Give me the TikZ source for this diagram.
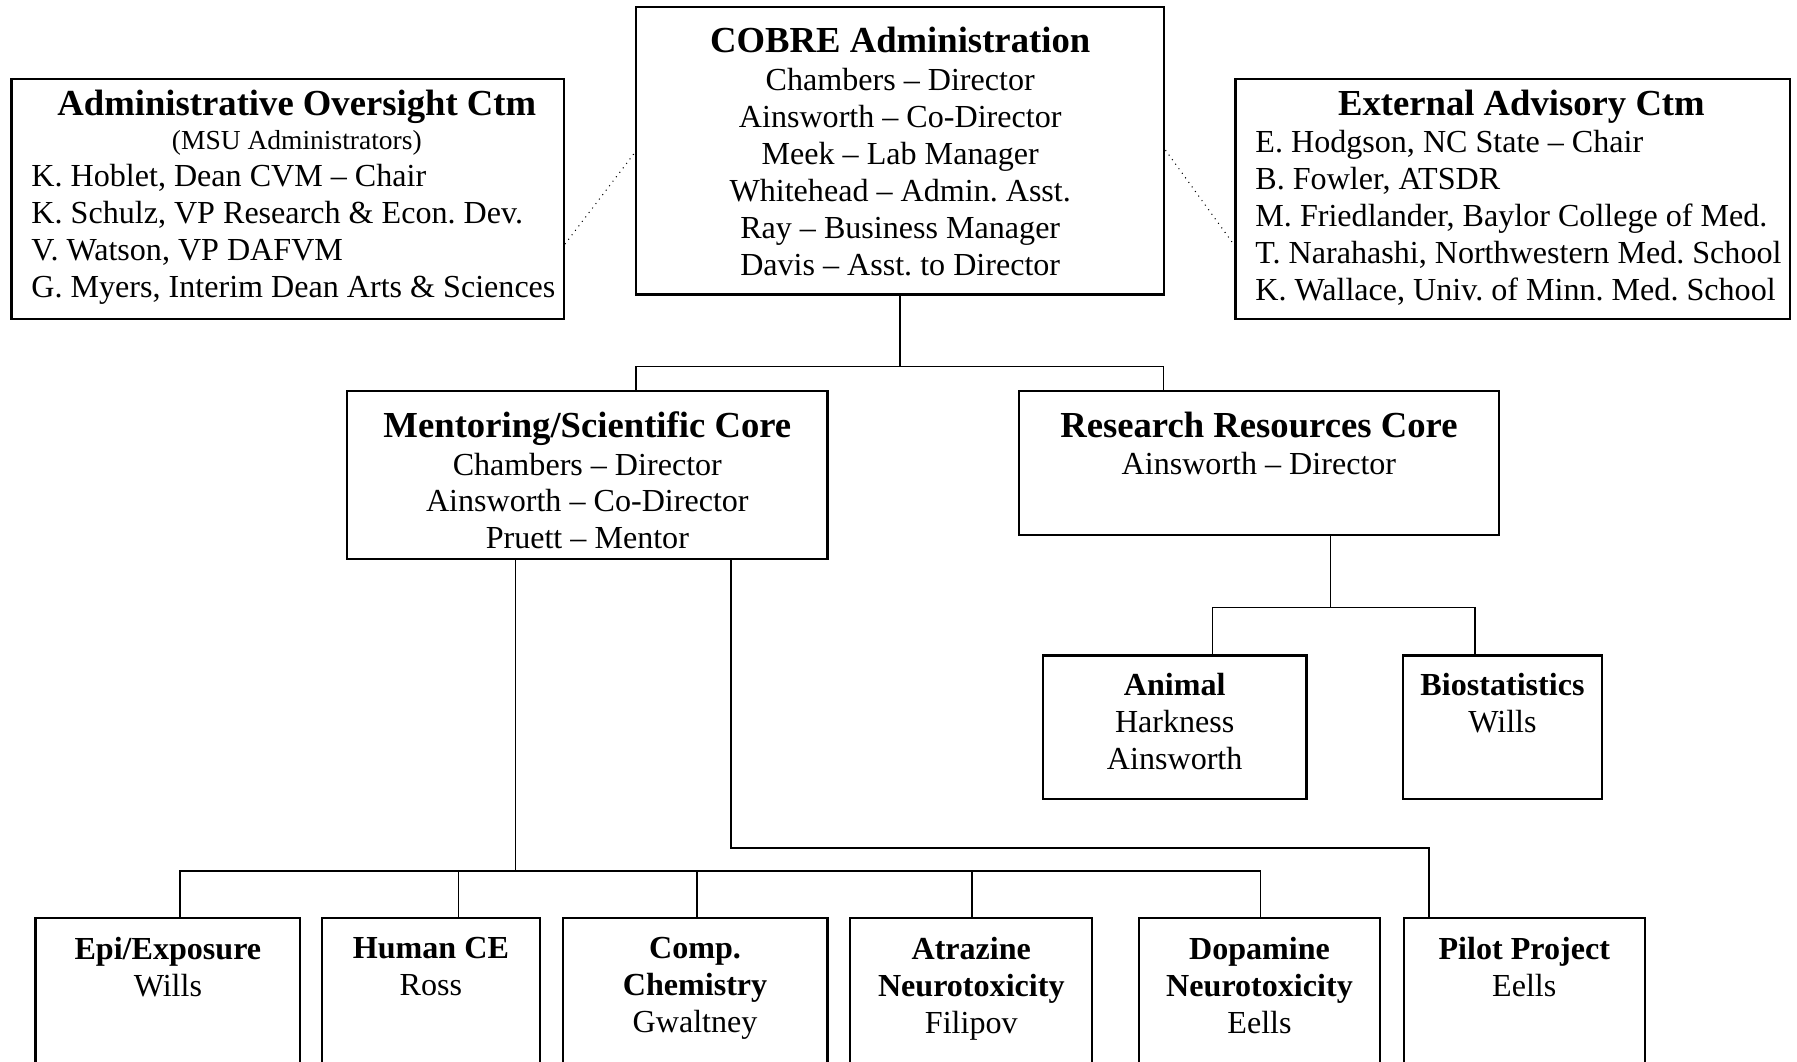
\documentclass[tikz,border=0pt]{standalone}
\usepackage{fontspec}
\setmainfont{Liberation Serif}
\usetikzlibrary{fit}
\newcommand\ttl[1]{{\fontsize{16}{18}\selectfont\bfseries #1}}
\begin{document}
\begin{tikzpicture}[x=0.5pt,y=-0.5pt,
  box/.style={draw, line width=0.95pt, inner sep=0pt},
  body/.style={inner sep=0pt, align=center, anchor=north, font=\fontsize{14}{16.1}\selectfont},
  lbody/.style={inner sep=0pt, align=left, anchor=north west, font=\fontsize{14}{16.1}\selectfont},
  conn/.style={line width=0.65pt},
  dotl/.style={dotted, line width=0.45pt}]
\useasboundingbox (0,0) rectangle (1568,926);
\clip (0,0) rectangle (1568,926);

% boxes
\node[box, fit={(555,6) (1016,257)}] (cobre) {};
\node[box, fit={(10,69) (492,278)}] (admin) {};
\node[box, fit={(1078,69) (1562,278)}] (ext) {};
\node[box, fit={(303,341) (722,488)}] (ment) {};
\node[box, fit={(889,341) (1308,467)}] (rrc) {};
\node[box, fit={(910,572) (1140,697)}] (animal) {};
\node[box, fit={(1224,572) (1398,697)}] (bio) {};
\node[box, fit={(31,801) (262,960)}] (epi) {};
\node[box, fit={(281,801) (471,960)}] (hce) {};
\node[box, fit={(491,801) (722,960)}] (comp) {};
\node[box, fit={(742,801) (953,960)}] (atr) {};
\node[box, fit={(994,801) (1204,960)}] (dop) {};
\node[box, fit={(1225,801) (1435,960)}] (pilot) {};

% texts
\node[body] (cobreT) at ([yshift=-8.9pt]cobre.north) {\ttl{COBRE Administration}\\[0.75pt]
  Chambers -- Director\\ Ainsworth -- Co-Director\\ Meek -- Lab Manager\\
  Whitehead -- Admin.\ Asst.\\ Ray -- Business Manager\\ Davis -- Asst.\ to Director};
\node[body] (adminT) at ([xshift=4pt,yshift=-4.9pt]admin.north) {\ttl{Administrative Oversight Ctm}\\[-1pt]
  {\fontsize{12}{14}\selectfont (MSU Administrators)}};
\node[lbody] (adminL) at ([xshift=9pt,yshift=-37.6pt]admin.north west) {K. Hoblet, Dean CVM -- Chair\\
  K. Schulz, VP Research \& Econ.\ Dev.\\ V. Watson, VP DAFVM\\ G. Myers, Interim Dean Arts \& Sciences};
\node[body] (extT) at ([xshift=3.75pt,yshift=-4.9pt]ext.north) {\ttl{External Advisory Ctm}};
\node[lbody] (extL) at ([xshift=9pt,yshift=-22.6pt]ext.north west) {E. Hodgson, NC State -- Chair\\
  B. Fowler, ATSDR\\ M. Friedlander, Baylor College of Med.\\ T. Narahashi, Northwestern Med.\ School\\
  K. Wallace, Univ.\ of Minn.\ Med.\ School};
\node[body] (mentT) at ([yshift=-9.4pt]ment.north) {\ttl{Mentoring/Scientific Core}\\[0.25pt]
  Chambers -- Director\\ Ainsworth -- Co-Director\\ Pruett -- Mentor};
\node[body] (rrcT) at ([yshift=-9.4pt]rrc.north) {\ttl{Research Resources Core}\\[0.25pt] Ainsworth -- Director};
\node[body] (animalT) at ([yshift=-8.1pt]animal.north) {\textbf{Animal}\\ Harkness\\ Ainsworth};
\node[body] (bioT) at ([yshift=-8.1pt]bio.north) {\textbf{Biostatistics}\\ Wills};
\node[body] (epiT) at ([yshift=-8.6pt]epi.north) {\textbf{Epi/Exposure}\\ Wills};
\node[body] (hceT) at ([yshift=-8.6pt]hce.north) {\textbf{Human CE}\\ Ross};
\node[body] (compT) at ([yshift=-8.6pt]comp.north) {\textbf{Comp.}\\ \textbf{Chemistry}\\ Gwaltney};
\node[body] (atrT) at ([yshift=-8.6pt]atr.north) {\textbf{Atrazine}\\ \textbf{Neurotoxicity}\\ Filipov};
\node[body] (dopT) at ([yshift=-8.6pt]dop.north) {\textbf{Dopamine}\\ \textbf{Neurotoxicity}\\ Eells};
\node[body] (pilotT) at ([yshift=-8.6pt]pilot.north) {\textbf{Pilot Project}\\ Eells};

% dotted links
\draw[dotl] (admin.east |- 0,213) -- (cobre.west |- 0,133);
\draw[dotl] (cobre.east |- 0,131) -- (ext.west |- 0,214);

% connectors
\coordinate (jL) at (555,320);
\coordinate (jR) at (1015,320);
\draw[conn] (cobre.south) -- (cobre.south |- jL);
\draw[conn] (ment.north -| jL) -- (jL) -- (jR) -- (rrc.north -| jR);

\coordinate (rr1) at (1161,530);
\coordinate (an1) at (1058,530);
\coordinate (bi1) at (1287,530);
\draw[conn] (rrc.south -| rr1) -- (rr1);
\draw[conn] (animal.north -| an1) -- (an1) -- (bi1) -- (bio.north -| bi1);

\coordinate (m1) at (450,760);
\coordinate (e1) at (157,760);
\coordinate (h1) at (400,760);
\coordinate (c1) at (608,760);
\coordinate (a1) at (848,760);
\coordinate (d1) at (1100,760);
\draw[conn] (ment.south -| m1) -- (m1);
\draw[conn] (epi.north -| e1) -- (e1) -- (d1) -- (dop.north -| d1);
\draw[conn] (h1) -- (hce.north -| h1);
\draw[conn] (c1) -- (comp.north -| c1);
\draw[conn] (a1) -- (atr.north -| a1);

\coordinate (p1) at (638,740);
\coordinate (p2) at (1247,740);
\draw[conn] (ment.south -| p1) -- (p1) -- (p2) -- (pilot.north -| p2);
\end{tikzpicture}
\end{document}
